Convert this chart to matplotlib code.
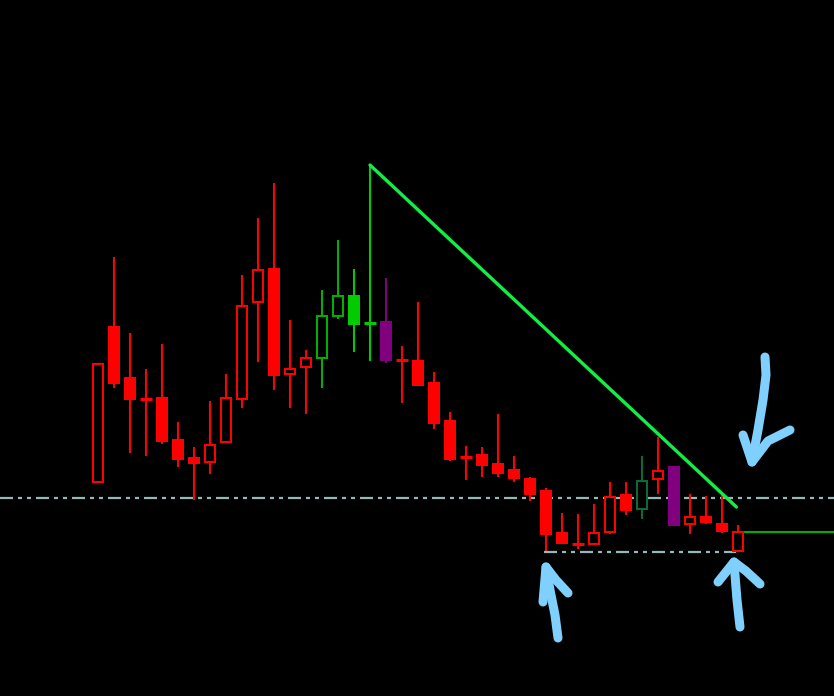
import matplotlib
matplotlib.use("Agg")
import matplotlib.pyplot as plt
from matplotlib.patches import Rectangle

plt.rcParams["lines.scale_dashes"] = False

# OHLC (price units = screen units, arbitrary)
opens  = [214, 369, 318, 297, 298, 256, 238, 234, 254, 297, 394, 427, 322, 329,
          338, 380, 400, 373, 374, 336, 335, 313, 275, 239, 241, 232, 226, 217,
          205, 163, 152, 152, 164, 201, 187, 217, 229, 172, 179, 172, 145]
highs  = [332, 439, 363, 327, 352, 274, 249, 295, 322, 421, 478, 513, 376, 346,
          406, 456, 427, 531, 418, 350, 394, 324, 284, 250, 249, 282, 240, 219,
          208, 183, 182, 192, 214, 214, 240, 259, 229, 202, 200, 204, 171]
lows   = [214, 308, 243, 240, 252, 229, 196, 222, 254, 288, 334, 306, 288, 282,
          308, 377, 344, 335, 333, 293, 311, 267, 235, 216, 219, 219, 214, 195,
          143, 153, 147, 152, 162, 181, 177, 202, 170, 162, 172, 163, 145]
closes = [332, 313, 297, 297, 255, 237, 233, 251, 298, 390, 426, 321, 327, 338,
          380, 400, 372, 373, 336, 336, 311, 273, 237, 239, 231, 223, 218, 202,
          162, 153, 152, 163, 199, 186, 215, 225, 171, 179, 174, 165, 164]
colors = ["red"] * 14 + ["green", "green", "lime", "lime", "purple"] + ["red"] * 15 \
         + ["dkgreen", "red", "purple", "red", "red", "red", "red"]

# lines drawn on the chart
trend_x, trend_y = [17, 39.9], [531, 189]
support_level = 198
low_level, low_x = 144, [27.9, 39.9]
green_level, green_x0 = 164, 40.4

palette = {"red": "#ff0000", "green": "#00b000", "lime": "#00cc00",
           "purple": "#800080", "dkgreen": "#0a6a38"}

fig = plt.figure(figsize=(8.34, 6.96), dpi=100, facecolor="black")
ax = fig.add_axes([0, 0, 1, 1])
ax.set_facecolor("black")
ax.set_xlim(-98 / 16, (834 - 98) / 16)
ax.set_ylim(0, 696)
ax.axis("off")

w = 0.62
lw = 1.44
for i, (o, h, l, c, col) in enumerate(zip(opens, highs, lows, closes, colors)):
    col = palette[col]
    top, bot = max(o, c), min(o, c)
    ax.plot([i, i], [top, h], color=col, lw=lw, solid_capstyle="butt")
    ax.plot([i, i], [l, bot], color=col, lw=lw, solid_capstyle="butt")
    if o == c:
        ax.plot([i - 0.37, i + 0.37], [o, o], color=col, lw=2.2, solid_capstyle="butt")
    else:
        face = col if c < o else "black"
        ax.add_patch(Rectangle((i - w / 2, bot), w, top - bot, facecolor=face,
                               edgecolor=col, lw=lw, zorder=3))

# long dash + two short dashes, sizes in pixels -> points
dash = (0, [x * 0.72 for x in (13, 5, 4, 5, 4, 5)])
ax.axhline(support_level, color="#93baba", lw=1.6, linestyle=dash, zorder=1)
ax.plot(low_x, [low_level, low_level], color="#93baba", lw=1.6, linestyle=dash)
ax.plot([green_x0, ax.get_xlim()[1]], [green_level, green_level], color="#00b000", lw=1.5)
ax.plot(trend_x, trend_y, color="#11ee44", lw=2.4, solid_capstyle="round", zorder=4)

# hand drawn arrows, in screen pixels
ov = fig.add_axes([0, 0, 1, 1])
ov.patch.set_alpha(0)
ov.set_xlim(0, 834)
ov.set_ylim(696, 0)
ov.axis("off")
arrows = [
    ([765, 766, 763, 758, 752], [357, 375, 400, 430, 462]),
    ([743, 752, 768, 790], [435, 462, 441, 430]),
    ([558, 555, 550, 546], [638, 615, 590, 567]),
    ([543, 546, 556, 568], [602, 567, 580, 593]),
    ([740, 737, 735, 734], [627, 600, 575, 562]),
    ([718, 734, 746, 760], [582, 562, 571, 584]),
]
for xs, ys in arrows:
    ov.plot(xs, ys, color="#7fcfff", lw=6.5, solid_capstyle="round", solid_joinstyle="round")

fig.savefig("out.png", dpi=100, facecolor="black")
